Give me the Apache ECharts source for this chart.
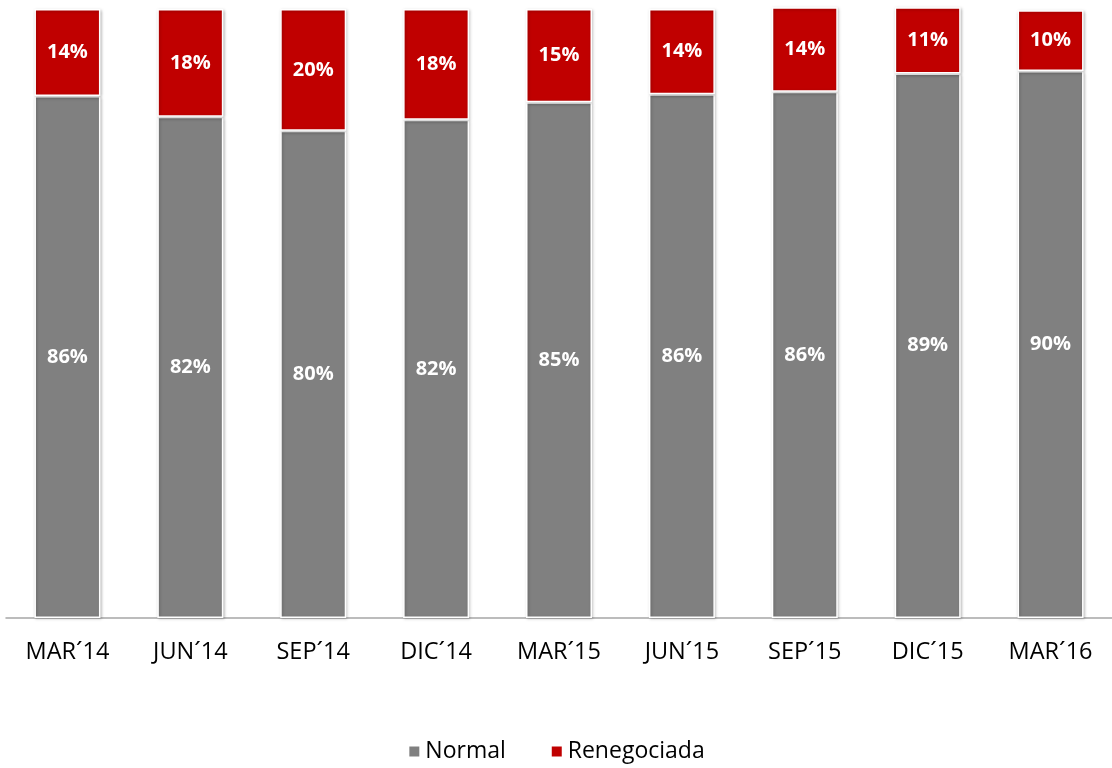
<!DOCTYPE html>
<html>
<head>
<meta charset="utf-8">
<script src="https://cdn.jsdelivr.net/npm/echarts@6/dist/echarts.min.js"></script>
<style>html,body{margin:0;padding:0;background:#fff}#c{width:1112px;height:768px}</style>
</head>
<body>
<div id="c"></div>
<script>
var categories = ["MAR\u00b414","JUN\u00b414","SEP\u00b414","DIC\u00b414","MAR\u00b415","JUN\u00b415","SEP\u00b415","DIC\u00b415","MAR\u00b416"];
var normal = [85.7, 82.3, 80.0, 81.8, 84.7, 86.0, 86.4, 89.4, 89.8];
var renegociada = [14.3, 17.7, 20.0, 18.2, 15.3, 14.0, 13.9, 10.9, 10.0];
var seriesNames = ["Normal", "Renegociada"];

var chart = echarts.init(document.getElementById('c'));
var FONT = "'Open Sans', sans-serif";
function lbl(p){ return Math.round(p.value) + '%'; }
var itemStyleBase = {borderColor:'#fff', borderWidth:1.5, shadowBlur:3, shadowColor:'rgba(0,0,0,0.25)', shadowOffsetX:1, shadowOffsetY:1};
chart.setOption({
  animation:false,
  grid:{left:6, top:9, width:1111.5, bottom:150, containLabel:false},
  legend:{
    bottom:0, left:'center', itemWidth:12, itemHeight:12, itemGap:44, icon:'rect',
    textStyle:{fontFamily:FONT, fontSize:23, color:'#000'},
    data:seriesNames
  },
  xAxis:{
    type:'category', data:categories,
    axisLine:{lineStyle:{color:'#a6a6a6', width:1.5}},
    axisTick:{show:false},
    axisLabel:{fontFamily:FONT, fontSize:23.5, color:'#000', margin:22}
  },
  yAxis:{type:'value', min:0, max:100, show:false, splitLine:{show:false}},
  series:[
    {name:seriesNames[0], type:'bar', stack:'t', data:normal, barWidth:66, clip:false,
     itemStyle:Object.assign({color:'#808080'}, itemStyleBase),
     label:{show:true, position:'inside', formatter:lbl, color:'#fff', fontWeight:'bold', fontFamily:FONT, fontSize:20}},
    {name:seriesNames[1], type:'bar', stack:'t', data:renegociada, barWidth:66, clip:false,
     itemStyle:Object.assign({color:'#c00000'}, itemStyleBase),
     label:{show:true, position:'inside', formatter:lbl, color:'#fff', fontWeight:'bold', fontFamily:FONT, fontSize:20}}
  ]
});
</script>
</body>
</html>
